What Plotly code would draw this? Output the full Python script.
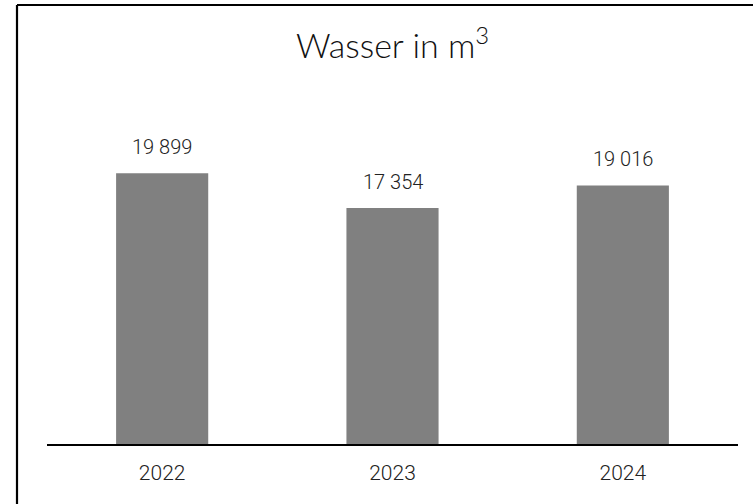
import plotly.graph_objects as go

years = ["2022", "2023", "2024"]
values = [19899, 17354, 19016]
labels = ["19 899", "17 354", "19 016"]

fig = go.Figure()
fig.add_trace(go.Bar(
    x=years, y=values,
    marker=dict(color="#808080", line=dict(width=0)),
    hoverinfo="skip",
))

for i, (v, lab) in enumerate(zip(values, labels)):
    fig.add_annotation(
        x=i, y=v, text=lab, showarrow=False,
        yanchor="bottom", yshift=12,
        font=dict(family="Roboto", size=20, color="#222222", weight=300),
    )

# outer frame (extends past right/bottom edge)
L, R, T, B = 47, 738, 104, 444
W, H = R - L, B - T
fig.add_shape(type="line", xref="paper", yref="paper",
              x0=(17 - L) / W, x1=1.3, y0=1 + (T - 5) / H, y1=1 + (T - 5) / H,
              line=dict(color="black", width=2.2))
fig.add_shape(type="line", xref="paper", yref="paper",
              x0=(17 - L) / W, x1=(17 - L) / W, y0=1 + (T - 5) / H, y1=-0.3,
              line=dict(color="black", width=2.2))

fig.update_layout(
    width=753, height=504,
    margin=dict(l=L, r=753 - R, t=T, b=504 - B, autoexpand=False),
    paper_bgcolor="white", plot_bgcolor="white",
    bargap=0.6,
    showlegend=False,
    title=dict(
        text="Wasser in m<sup>3</sup>",
        x=(L + R) / 2 / 753, xanchor="center",
        y=1 - 46 / 504, yanchor="middle",
        font=dict(family="Lato", size=34, color="#111111", weight=300),
    ),
    xaxis=dict(
        type="category", range=[-0.5, 2.5],
        showline=True, linecolor="black", linewidth=1.7,
        ticks="outside", ticklen=9, tickcolor="rgba(0,0,0,0)",
        tickfont=dict(family="Roboto", size=21, color="#222222", weight=300),
        showgrid=False, zeroline=False,
    ),
    yaxis=dict(
        range=[0, 25000], visible=False, showgrid=False, zeroline=False,
    ),
)

fig.write_html(
    "out.html",
    config={"displayModeBar": False, "staticPlot": True},
    post_script="document.body.style.margin='0px';document.body.style.overflow='hidden';",
)
